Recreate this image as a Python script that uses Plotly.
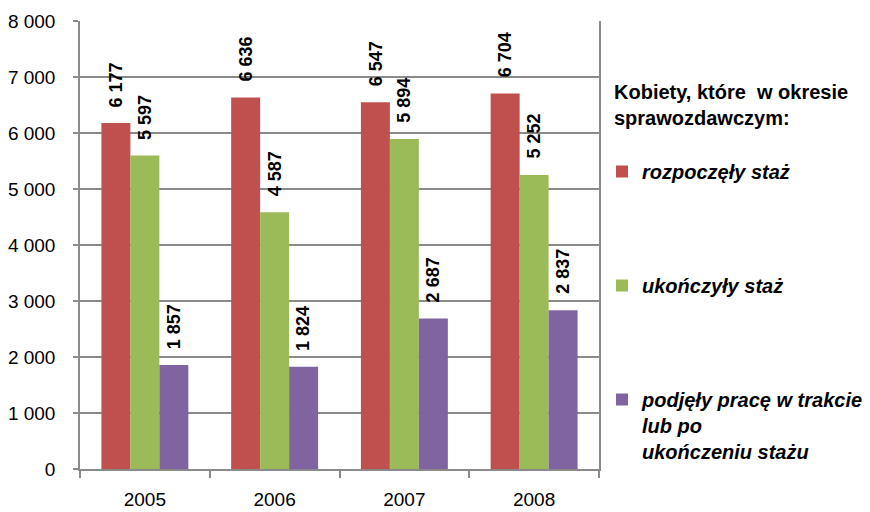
import plotly.graph_objects as go

years = ["2005", "2006", "2007", "2008"]
series_names = [
    "<b><i>rozpoczęły staż</i></b>",
    "<b><i>ukończyły staż</i></b>",
    "<b><i>podjęły pracę w trakcie<br>lub po<br>ukończeniu stażu</i></b>",
]
started = [6177, 6636, 6547, 6704]
finished = [5597, 4587, 5894, 5252]
employed = [1857, 1824, 2687, 2837]
colors = ["#C0504D", "#9BBB59", "#8064A2"]
y_ticks = [0, 1000, 2000, 3000, 4000, 5000, 6000, 7000, 8000]
legend_title = "<b>Kobiety, które \u00a0w okresie<br>sprawozdawczym:</b>"

FONT = "Liberation Sans, Arial, sans-serif"
W, H = 870, 512
M_L, M_R, M_T, M_B = 80, 271, 21, 43
PLOT_W = W - M_L - M_R
PLOT_H = H - M_T - M_B
values = [started, finished, employed]


def fmt(v):
    return f"{v:,}".replace(",", "\u00a0")


fig = go.Figure()
for i, (name, vals, col) in enumerate(zip(series_names, values, colors)):
    fig.add_trace(go.Bar(
        x=years, y=vals, name=name, marker_color=col,
        marker_line_width=0, legendgroup=f"g{i}",
    ))

# rotated value labels above every bar
bar_w = (1 - 0.33) / 3
annotations = []
for i, vals in enumerate(values):
    for j, v in enumerate(vals):
        annotations.append(dict(
            x=j + (i - 1) * bar_w, y=v, xref="x", yref="y",
            text=f"<b>{fmt(v)}</b>", showarrow=False, textangle=-90,
            xanchor="center", yanchor="bottom", yshift=14,
            font=dict(family=FONT, size=18, color="#000000"),
        ))

# legend heading, placed to the right of the plot area
annotations.append(dict(
    x=(612 - M_L) / PLOT_W, y=(H - M_B - 79) / PLOT_H,
    xref="paper", yref="paper",
    xanchor="left", yanchor="top", align="left", showarrow=False,
    text=legend_title, font=dict(family=FONT, size=20, color="#000000"),
))

fig.update_layout(
    width=W, height=H,
    margin=dict(l=M_L, r=M_R, t=M_T, b=M_B),
    paper_bgcolor="white", plot_bgcolor="white",
    barmode="group", bargap=0.33, bargroupgap=0,
    font=dict(family=FONT, size=19, color="#000000"),
    annotations=annotations,
    legend=dict(
        x=602 / W, xref="container", xanchor="left",
        y=1 - 152 / H, yref="container", yanchor="top",
        traceorder="grouped", tracegroupgap=85, valign="top",
        maxheight=1000,
        font=dict(family=FONT, size=20, color="#000000"),
        bgcolor="rgba(0,0,0,0)",
    ),
    xaxis=dict(
        type="category", showline=True, linecolor="#8a8a8a", linewidth=1.5,
        ticks="outside", tickson="boundaries", ticklen=7, tickcolor="#8a8a8a",
        tickwidth=1.5, showgrid=False, ticklabelstandoff=12,
        tickfont=dict(family=FONT, size=19, color="#000000"),
        automargin=False,
    ),
    yaxis=dict(
        range=[0, 8000], tickvals=y_ticks,
        ticktext=[fmt(t) for t in y_ticks],
        showline=True, linecolor="#8a8a8a", linewidth=1.5, mirror=True,
        ticks="outside", ticklen=5, tickcolor="#8a8a8a", tickwidth=1.5,
        showgrid=True, gridcolor="#8a8a8a", gridwidth=1.5,
        zeroline=False, ticklabelstandoff=14,
        tickfont=dict(family=FONT, size=19, color="#000000"),
        automargin=False,
    ),
)

fig.write_html("out.html")
